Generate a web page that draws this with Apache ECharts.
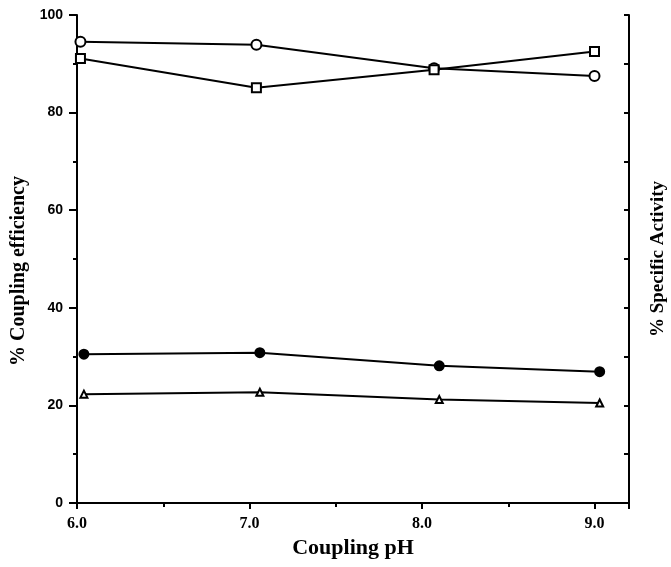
<!DOCTYPE html>
<html>
<head>
<meta charset="utf-8">
<script src="https://cdn.jsdelivr.net/npm/echarts@6/dist/echarts.min.js"></script>
<style>
  html, body { margin: 0; padding: 0; background: #fff; }
  #chart { width: 671px; height: 567px; }
</style>
</head>
<body>
<div id="chart"></div>
<script>
// coupling pH where each set was measured (upper and lower pairs read slightly apart)
var phUpper = [6.02, 7.04, 8.07, 9.0];
var phLower = [6.04, 7.06, 8.1, 9.03];

// % values
var openCircle = [94.5, 93.9, 89.1, 87.5];
var openSquare = [91.1, 85.1, 88.8, 92.5];
var filledCircle = [30.5, 30.8, 28.1, 26.9];
var openTriangle = [22.3, 22.7, 21.2, 20.5];

var xTicks = [6, 7, 8, 9];
var yTicks = [0, 20, 40, 60, 80, 100];

function pairs(xs, ys) {
  return xs.map(function (x, i) { return [x, ys[i]]; });
}

var myChart = echarts.init(document.getElementById('chart'));

var black = '#000';
var lineStyle = { color: black, width: 2 };

function makeSeries(name, xs, ys, symbol, size, fill) {
  return {
    name: name,
    type: 'line',
    data: pairs(xs, ys),
    symbol: symbol,
    symbolSize: size,
    lineStyle: lineStyle,
    itemStyle: { color: fill, borderColor: black, borderWidth: 2 },
    emphasis: { disabled: true }
  };
}

var option = {
  backgroundColor: '#fff',
  animation: false,
  grid: { left: 77, right: 42, top: 15, bottom: 64, outerBoundsMode: 'none' },
  xAxis: [{
    type: 'value',
    position: 'bottom',
    min: 6, max: 9.2, interval: 1,
    axisLine: { lineStyle: lineStyle },
    axisTick: { length: 6, lineStyle: lineStyle },
    minorTick: { show: true, splitNumber: 2, length: 4, lineStyle: { color: black, width: 2 } },
    splitLine: { show: false },
    axisLabel: {
      margin: 13,
      color: black,
      fontFamily: 'Liberation Serif',
      fontWeight: 'bold',
      fontSize: 16,
      formatter: function (v) {
        return xTicks.indexOf(v) >= 0 ? v.toFixed(1) : '';
      }
    },
    name: 'Coupling pH',
    nameLocation: 'middle',
    nameGap: 32,
    nameTextStyle: { color: black, fontFamily: 'Liberation Serif', fontWeight: 'bold', fontSize: 22 }
  }, {
    type: 'value',
    position: 'top',
    min: 6, max: 9.2,
    axisLine: { lineStyle: lineStyle },
    axisTick: { show: false },
    axisLabel: { show: false },
    splitLine: { show: false }
  }],
  yAxis: [{
    type: 'value',
    position: 'left',
    min: 0, max: 100, interval: 20,
    axisLine: { lineStyle: lineStyle },
    axisTick: { length: 8, lineStyle: lineStyle },
    minorTick: { show: true, splitNumber: 2, length: 4, lineStyle: { color: black, width: 2 } },
    splitLine: { show: false },
    axisLabel: {
      margin: 14,
      color: black,
      fontFamily: 'Liberation Sans',
      fontWeight: 'bold',
      fontSize: 14,
      formatter: function (v) {
        return yTicks.indexOf(v) >= 0 ? String(v) : '';
      }
    },
    name: '% Coupling efficiency',
    nameLocation: 'middle',
    nameGap: 44,
    nameTextStyle: {
      color: black, fontFamily: 'Liberation Serif', fontWeight: 'bold', fontSize: 20,
      padding: [0, 24, 0, 0]
    }
  }, {
    type: 'value',
    position: 'right',
    min: 0, max: 100, interval: 10,
    axisLine: { lineStyle: lineStyle },
    axisTick: { inside: true, length: 5, lineStyle: lineStyle },
    axisLabel: { show: false },
    splitLine: { show: false },
    name: '% Specific Activity',
    nameLocation: 'middle',
    nameGap: 20,
    nameTextStyle: { color: black, fontFamily: 'Liberation Serif', fontWeight: 'bold', fontSize: 19 }
  }],
  series: [
    makeSeries('open circle', phUpper, openCircle, 'circle', 10, '#fff'),
    makeSeries('open square', phUpper, openSquare, 'rect', 9, '#fff'),
    makeSeries('filled circle', phLower, filledCircle, 'circle', 9, black),
    makeSeries('open triangle', phLower, openTriangle, 'triangle', 7, '#fff')
  ]
};

myChart.setOption(option);
</script>
</body>
</html>
